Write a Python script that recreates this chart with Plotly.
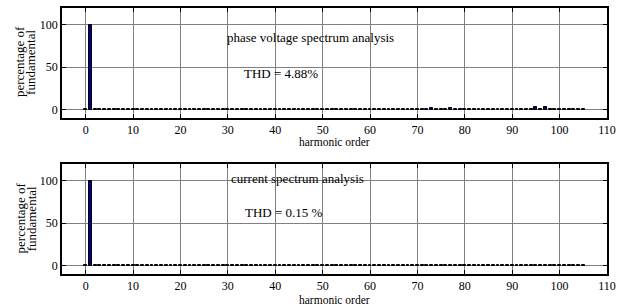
import plotly.graph_objects as go
from plotly.subplots import make_subplots

harmonic_order = list(range(0, 106))

# percentage of fundamental, harmonics 0..105
voltage_pct = [
    0.5, 100, 0.5, 0.5, 0.5, 0.5, 0.5, 0.5, 0.5, 0.5,   # 0-9
    0.5, 0.5, 0.5, 0.5, 0.5, 0.5, 0.5, 0.5, 0.5, 0.5,   # 10-19
    0.5, 0.5, 0.5, 0.5, 0.5, 0.5, 0.5, 0.5, 0.5, 0.5,   # 20-29
    0.5, 0.5, 0.5, 0.5, 0.5, 0.5, 0.5, 0.5, 0.5, 0.5,   # 30-39
    0.5, 0.5, 0.5, 0.5, 0.5, 0.5, 0.5, 0.5, 0.5, 0.5,   # 40-49
    0.5, 0.5, 0.5, 0.5, 0.5, 0.5, 0.5, 0.5, 0.5, 0.5,   # 50-59
    0.5, 0.5, 0.5, 0.5, 0.5, 0.5, 0.5, 0.5, 0.5, 0.5,   # 60-69
    0.5, 0.5, 0.5, 1.4, 0.5, 0.5, 0.5, 1.4, 0.5, 0.5,   # 70-79
    0.5, 0.5, 0.5, 0.5, 0.5, 0.5, 0.5, 0.5, 0.5, 0.5,   # 80-89
    0.5, 1.0, 0.5, 0.5, 0.5, 3.4, 0.5, 3.4, 0.5, 0.5,   # 90-99
    0.5, 1.1, 0.5, 0.5, 0.5, 0.5,                       # 100-105
]

current_pct = [
    0.4, 100, 0.4, 0.4, 0.4, 0.4, 0.4, 0.4, 0.4, 0.4,
    0.4, 0.4, 0.4, 0.4, 0.4, 0.4, 0.4, 0.4, 0.4, 0.4,
    0.4, 0.4, 0.4, 0.4, 0.4, 0.4, 0.4, 0.4, 0.4, 0.4,
    0.4, 0.4, 0.4, 0.4, 0.4, 0.4, 0.4, 0.4, 0.4, 0.4,
    0.4, 0.4, 0.4, 0.4, 0.4, 0.4, 0.4, 0.4, 0.4, 0.4,
    0.4, 0.4, 0.4, 0.4, 0.4, 0.4, 0.4, 0.4, 0.4, 0.4,
    0.4, 0.4, 0.4, 0.4, 0.4, 0.4, 0.4, 0.4, 0.4, 0.4,
    0.4, 0.4, 0.4, 0.4, 0.4, 0.4, 0.4, 0.4, 0.4, 0.4,
    0.4, 0.4, 0.4, 0.4, 0.4, 0.4, 0.4, 0.4, 0.4, 0.4,
    0.4, 0.4, 0.4, 0.4, 0.4, 0.4, 0.4, 0.4, 0.4, 0.4,
    0.4, 0.4, 0.4, 0.4, 0.4, 0.4,
]

x_ticks = [0, 10, 20, 30, 40, 50, 60, 70, 80, 90, 100, 110]
y_ticks = [0, 50, 100]

titles = ["phase voltage spectrum analysis", "current spectrum analysis"]
thd_labels = ["THD = 4.88%", "THD = 0.15 %"]
x_title = "harmonic order"
y_title_lines = ["percentage of", "fundamental"]

FONT = "Liberation Serif"

fig = make_subplots(rows=2, cols=1, vertical_spacing=0.173)

for r, vals in ((1, voltage_pct), (2, current_pct)):
    fig.add_trace(go.Bar(
        x=harmonic_order, y=vals, width=0.6,
        marker=dict(color="#000090", line=dict(color="black", width=1)),
        showlegend=False, hoverinfo="skip"), row=r, col=1)

axis_common = dict(
    showline=True, linecolor="black", linewidth=1.5, mirror="all",
    ticks="inside", ticklen=4, tickcolor="black",
    showgrid=True, gridcolor="#808080", gridwidth=1,
    zeroline=False, automargin=False,
    tickfont=dict(family=FONT, size=12, color="black"),
)

for r in (1, 2):
    fig.update_xaxes(range=[-5, 110], tickvals=x_ticks, **axis_common, row=r, col=1)
    fig.update_yaxes(range=[-10, 120], tickvals=y_ticks, **axis_common, row=r, col=1)

tfont = dict(family=FONT, size=13, color="black")
xfont = dict(family=FONT, size=11.5, color="black")
ann = []
ann.append(dict(x=47.4, y=85, xref="x", yref="y", text=titles[0], showarrow=False))
ann.append(dict(x=41.3, y=43, xref="x", yref="y", text=thd_labels[0], showarrow=False))
ann.append(dict(x=44.6, y=103, xref="x2", yref="y2", text=titles[1], showarrow=False))
ann.append(dict(x=41.8, y=63, xref="x2", yref="y2", text=thd_labels[1], showarrow=False))
for a in ann:
    a["font"] = tfont

# x-axis titles
for yp in (0.496, -0.0959):
    ann.append(dict(x=0.5, y=yp, xref="paper", yref="paper", text=x_title,
                    showarrow=False, xanchor="center", yanchor="middle", font=xfont))

# y-axis titles (two lines, tight spacing)
for yc in (0.797, 0.209):
    for xp, txt in ((-0.077, y_title_lines[0]), (-0.057, y_title_lines[1])):
        ann.append(dict(x=xp, y=yc, xref="paper", yref="paper", text=txt,
                        textangle=-90, showarrow=False, xanchor="center", yanchor="middle",
                        font=tfont))

fig.update_layout(
    width=631, height=306,
    margin=dict(l=62, r=24, t=8, b=32, autoexpand=False),
    paper_bgcolor="white", plot_bgcolor="white",
    bargap=0,
    annotations=ann,
    font=dict(family=FONT, size=12, color="black"),
)

fig.write_html("out.html", config={"displayModeBar": False},
               post_script="document.body.style.margin='0';")
